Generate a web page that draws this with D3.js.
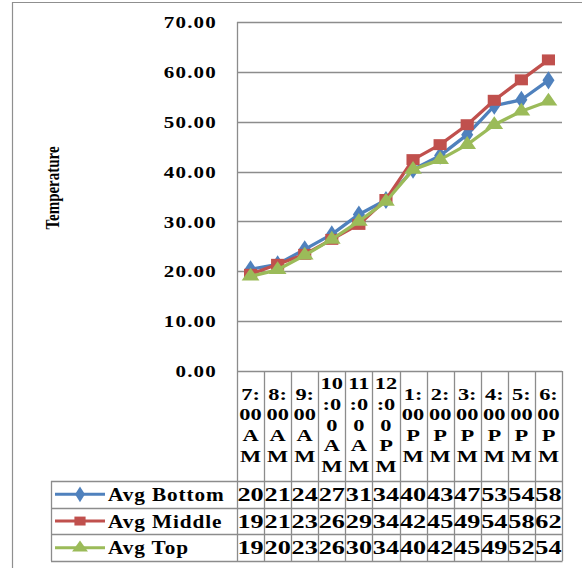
<!DOCTYPE html>
<html>
<head>
<meta charset="utf-8">
<script src="https://cdn.jsdelivr.net/npm/d3@7"></script>
<style>
  html, body { margin: 0; padding: 0; background: #fff; }
  svg { display: block; }
  text { font-family: "Liberation Serif", "Times New Roman", Tinos, serif; font-weight: bold; fill: #000; }
</style>
</head>
<body>
<svg id="chart" width="582" height="568"></svg>
<script>
// ---- data ----
const categories = ["7:00 AM","8:00 AM","9:00 AM","10:00 AM","11:00 AM","12:00 PM","1:00 PM","2:00 PM","3:00 PM","4:00 PM","5:00 PM","6:00 PM"];
const categoryLabelLines = [
  ["7:","00","A","M"], ["8:","00","A","M"], ["9:","00","A","M"],
  ["10",":0","0","A","M"], ["11",":0","0","A","M"], ["12",":0","0","P","M"],
  ["1:","00","P","M"], ["2:","00","P","M"], ["3:","00","P","M"],
  ["4:","00","P","M"], ["5:","00","P","M"], ["6:","00","P","M"]
];
const seriesNames = ["Avg Bottom", "Avg Middle", "Avg Top"];
const avgBottom = [20.4, 21.4, 24.4, 27.4, 31.4, 34.3, 40.4, 43.2, 47.4, 53.2, 54.4, 58.3];
const avgMiddle = [19.4, 21.4, 23.4, 26.4, 29.4, 34.4, 42.4, 45.4, 49.4, 54.3, 58.4, 62.4];
const avgTop    = [19.0, 20.3, 23.2, 26.4, 30.0, 34.0, 40.4, 42.4, 45.4, 49.4, 52.1, 54.1];
const yTicks = [0, 10, 20, 30, 40, 50, 60, 70];
const yTitle = "Temperature";

// ---- layout / style ----
const colors = ["#4F81BD", "#C0504D", "#9BBB59"];
const markers = [d3.symbolDiamond, d3.symbolSquare, d3.symbolTriangle];
const seriesData = [avgBottom, avgMiddle, avgTop];
const plotL = 237, plotR = 562, plotT = 22, plotB = 371;
const catBottom = 481, tableRowH = 26.7, legendL = 51;
const gridColor = "#8c8c8c";

const svg = d3.select("#chart");

const x = d3.scaleBand().domain(categories).range([plotL, plotR]).padding(0);
const y = d3.scaleLinear().domain([0, 70]).range([plotB, plotT]);

// outer border
svg.append("path")
  .attr("d", `M12.5,568 L12.5,2.5 L582,2.5`)
  .attr("fill", "none").attr("stroke", "#8f8f8f").attr("stroke-width", 1.2);

// gridlines
svg.append("g").selectAll("line").data(yTicks).join("line")
  .attr("x1", plotL).attr("x2", plotR)
  .attr("y1", d => Math.round(y(d)) + 0.5).attr("y2", d => Math.round(y(d)) + 0.5)
  .attr("stroke", gridColor).attr("stroke-width", 1.3);

// y axis line (extends through table)
const tableBottom = catBottom + 3 * tableRowH;
svg.append("line")
  .attr("x1", plotL + 0.5).attr("x2", plotL + 0.5)
  .attr("y1", plotT).attr("y2", tableBottom)
  .attr("stroke", gridColor).attr("stroke-width", 1.3);

// y tick labels
const yFmt = d3.format(".2f");
svg.append("g").selectAll("text").data(yTicks).join("text")
  .attr("transform", d => `translate(217,${y(d)}) scale(1.2,1)`)
  .attr("text-anchor", "end")
  .attr("dy", "0.35em")
  .attr("font-size", 17.5)
  .attr("letter-spacing", 1)
  .text(d => yFmt(d));

// y title
svg.append("text")
  .attr("transform", `translate(59,188) rotate(-90) scale(1,1.2)`)
  .attr("text-anchor", "middle")
  .attr("font-size", 15)
  .text(yTitle);

// category columns (vertical lines)
const colEdges = categories.map(c => x(c)).concat([plotR]);
svg.append("g").selectAll("line").data(colEdges.slice(1)).join("line")
  .attr("x1", d => Math.round(d) + 0.5).attr("x2", d => Math.round(d) + 0.5)
  .attr("y1", plotB).attr("y2", tableBottom)
  .attr("stroke", gridColor).attr("stroke-width", 1.3);

// category labels
const lineH = 20.6, catMid = 425;
const catG = svg.append("g").selectAll("g").data(categories).join("g");
catG.each(function(c, i) {
  const lines = categoryLabelLines[i];
  const top = catMid - (lines.length - 1) * lineH / 2;
  d3.select(this).selectAll("text").data(lines).join("text")
    .attr("transform", (t, j) => `translate(${x(c) + x.bandwidth() / 2},${top + j * lineH}) scale(1.4,1)`)
    .attr("text-anchor", "middle")
    .attr("dy", "0.35em")
    .attr("font-size", 16)
    .text(t => t);
});

// data table horizontal lines
const rowEdges = [0, 1, 2, 3].map(k => catBottom + k * tableRowH);
svg.append("g").selectAll("line").data(rowEdges).join("line")
  .attr("x1", legendL).attr("x2", plotR + 0.5)
  .attr("y1", d => Math.round(d) + 0.5).attr("y2", d => Math.round(d) + 0.5)
  .attr("stroke", gridColor).attr("stroke-width", 1.3);
svg.append("line")
  .attr("x1", legendL + 0.5).attr("x2", legendL + 0.5)
  .attr("y1", catBottom).attr("y2", tableBottom)
  .attr("stroke", gridColor).attr("stroke-width", 1.3);

// table rows: legend keys + values
seriesNames.forEach((name, s) => {
  const cy = catBottom + (s + 0.5) * tableRowH;
  const g = svg.append("g");
  g.append("line").attr("x1", 55).attr("x2", 105).attr("y1", cy).attr("y2", cy)
    .attr("stroke", colors[s]).attr("stroke-width", 3);
  g.append("path")
    .attr("d", d3.symbol().type(markers[s]).size(s === 1 ? 80 : 70)())
    .attr("transform", `translate(80,${cy}) scale(${s === 0 ? 1.1 : 1.25},1)`)
    .attr("fill", colors[s]);
  g.append("text")
    .attr("transform", `translate(108,${cy}) scale(1.12,1)`)
    .attr("dy", "0.35em")
    .attr("font-size", 19)
    .attr("letter-spacing", 0.8)
    .text(name);
  g.selectAll("text.val").data(seriesData[s]).join("text")
    .attr("class", "val")
    .attr("transform", (d, i) => `translate(${x(categories[i]) + x.bandwidth() / 2},${cy}) scale(1.38,1)`)
    .attr("text-anchor", "middle")
    .attr("dy", "0.35em")
    .attr("font-size", 19)
    .text(d => d3.format(".0f")(d));
});

// lines + markers
const lineGen = d3.line()
  .x((d, i) => x(categories[i]) + x.bandwidth() / 2)
  .y(d => y(d));
seriesData.forEach((vals, s) => {
  svg.append("path").datum(vals)
    .attr("d", lineGen)
    .attr("fill", "none")
    .attr("stroke", colors[s])
    .attr("stroke-width", 3.3)
    .attr("stroke-linejoin", "round");
  svg.append("g").selectAll("path").data(vals).join("path")
    .attr("d", d3.symbol().type(markers[s]).size(s === 1 ? 120 : (s === 0 ? 95 : 95))())
    .attr("transform", (d, i) => `translate(${x(categories[i]) + x.bandwidth() / 2},${y(d)}) scale(${s === 0 ? 1.15 : 1.2},1)`)
    .attr("fill", colors[s]);
});
</script>
</body>
</html>
